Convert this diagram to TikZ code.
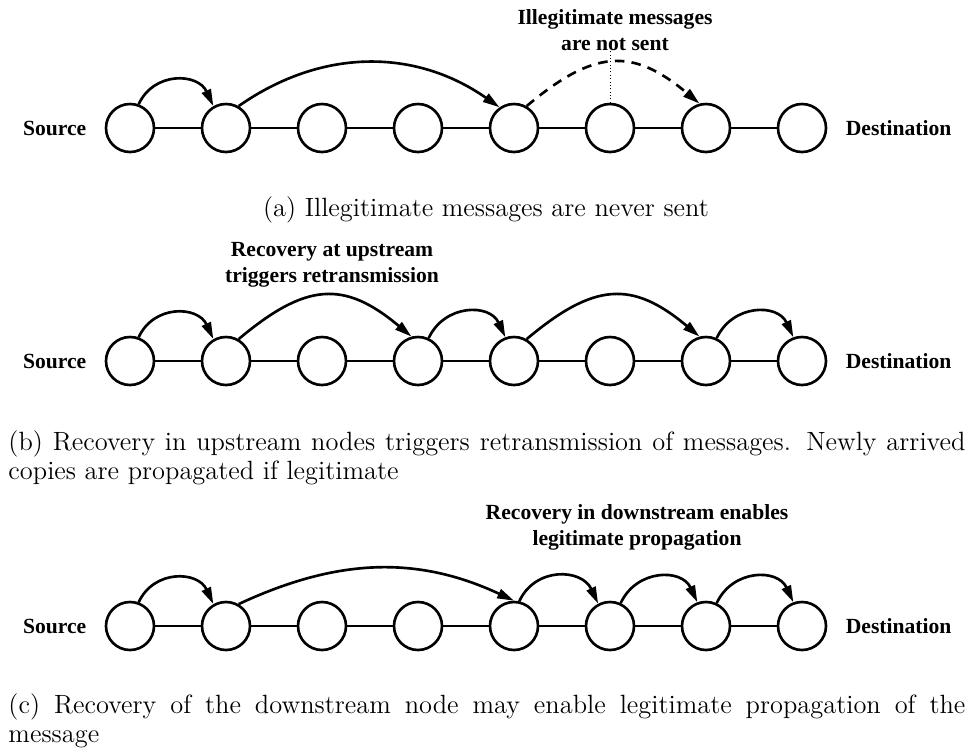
\documentclass[tikz,border=0pt]{standalone}
\usepackage{fontspec}
\newfontfamily\figfont{Liberation Serif}
\usetikzlibrary{positioning, arrows.meta}

\begin{document}
\begin{tikzpicture}[x=0.41667pt, y=0.41667pt,
	peer/.style={circle, draw, line width=1.1pt, minimum size=20pt, inner sep=0pt},
	link/.style={line width=1.1pt},
	hop/.style={line width=1.1pt, -{Triangle[length=7pt, width=4pt]}},
	endlabel/.style={font=\figfont\bfseries\fontsize{9}{10.8}\selectfont, inner sep=0pt},
	note/.style={font=\figfont\bfseries\fontsize{9}{10.8}\selectfont, align=center, inner sep=0pt},
	subcap/.style={font=\fontsize{11}{12.1}\selectfont, inner sep=0pt}]
	\useasboundingbox (0,0) rectangle (972,-752);

	% three chains of eight nodes, source on the left
	\foreach \r/\y in {a/128, b/361, c/626} {
		\foreach \i in {1,...,8}
			\node[peer] (\r\i) at ({34+96*\i},-\y) {};
		\foreach \i [count=\j from 2] in {1,...,7}
			\draw[link] (\r\i) -- (\r\j);
		\node[endlabel, left=7.5pt of \r1] (src\r) {Source};
		\node[endlabel, right=7.5pt of \r8] (dst\r) {Destination};
	}

	% (a) forwarding stops at the illegitimate hop
	\draw[hop] (a1.70) to[out=65, in=115, looseness=1.25] (a2.120);
	\draw[hop] (a2.60) to[out=35, in=145] (a5.125);
	\draw[hop, dash pattern=on 4pt off 3pt] (a5.60) to[out=40, in=140, looseness=1.3] (a7.105);
	\node[note, anchor=base] (notea) at (615,-50) {Illegitimate messages\\are not sent};
	\draw[densely dotted, line width=0.4pt] (a6.north) -- (a6.north |- notea.south);
	\node[subcap, anchor=base] (capa) at (486,-216) {(a) Illegitimate messages are never sent};

	% (b) upstream recovery
	\draw[hop] (b1.70) to[out=65, in=115, looseness=1.25] (b2.120);
	\draw[hop] (b2.60) to[out=40, in=140, looseness=1.3] (b4.105);
	\draw[hop] (b4.65) to[out=65, in=115, looseness=1.25] (b5.110);
	\draw[hop] (b5.60) to[out=40, in=140, looseness=1.3] (b7.105);
	\draw[hop] (b7.65) to[out=65, in=115, looseness=1.25] (b8.110);
	\node[note, anchor=base] (noteb) at (332,-282) {Recovery at upstream\\triggers retransmission};
	\node[subcap, anchor=base west, text width=398.75pt, align=justify] (capb) at (8,-450)
		{(b) Recovery in upstream nodes triggers retransmission of messages. Newly arrived\linebreak copies are propagated if legitimate};

	% (c) downstream recovery
	\draw[hop] (c1.70) to[out=65, in=115, looseness=1.25] (c2.120);
	\draw[hop] (c2.60) to[out=25, in=155] (c5.90);
	\draw[hop] (c5.78) to[out=65, in=115, looseness=1.25] (c6.118);
	\draw[hop] (c6.65) to[out=65, in=115, looseness=1.25] (c7.110);
	\draw[hop] (c7.65) to[out=65, in=115, looseness=1.25] (c8.110);
	\node[note, anchor=base] (notec) at (637,-545) {Recovery in downstream enables\\legitimate propagation};
	\node[subcap, anchor=base west, text width=398.75pt, align=justify] (capc) at (8,-713)
		{(c) Recovery of the downstream node may enable legitimate propagation of the\linebreak message};
\end{tikzpicture}
\end{document}
